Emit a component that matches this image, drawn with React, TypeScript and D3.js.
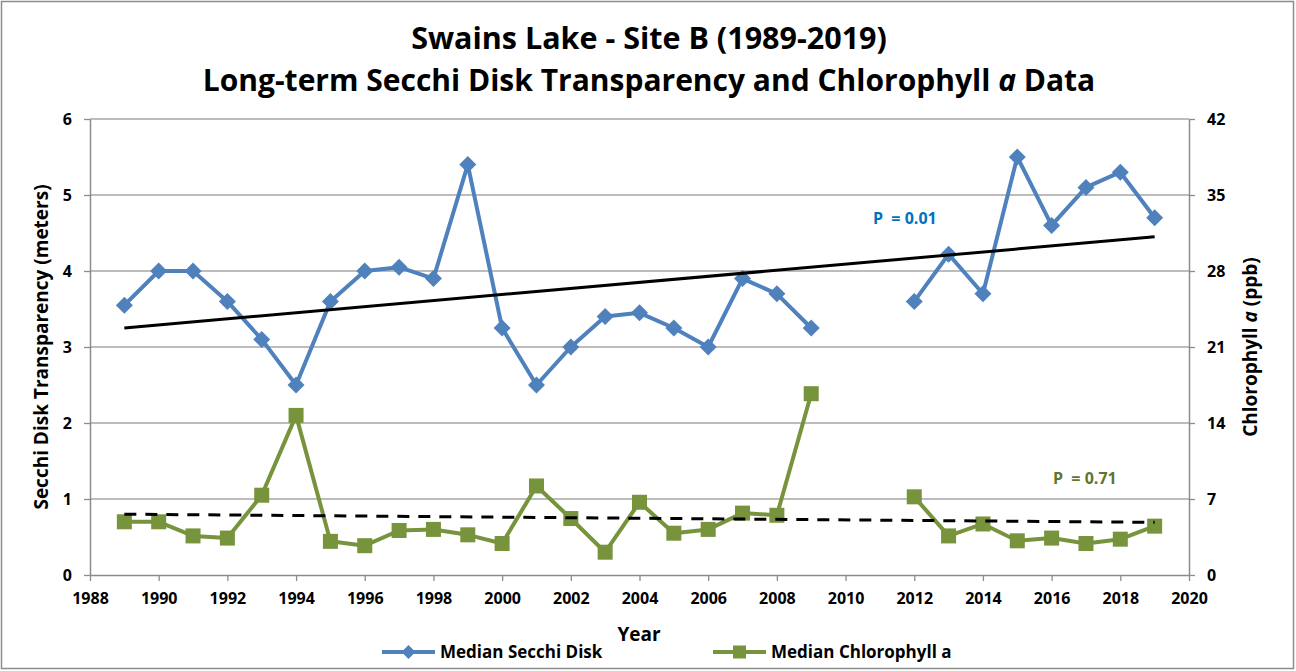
import React, { useEffect, useRef } from "react";
import * as d3 from "d3";

// years with measurements (2010 and 2011 missing)
const years = [1989, 1990, 1991, 1992, 1993, 1994, 1995, 1996, 1997, 1998, 1999, 2000, 2001, 2002, 2003, 2004, 2005, 2006, 2007, 2008, 2009, 2010, 2011, 2012, 2013, 2014, 2015, 2016, 2017, 2018, 2019];

// Median Secchi disk (meters), left axis
const secchi = [3.55, 4.0, 4.0, 3.6, 3.1, 2.5, 3.6, 4.0, 4.05, 3.9, 5.4, 3.25, 2.5, 3.0, 3.4, 3.45, 3.25, 3.0, 3.9, 3.7, 3.25, null, null, 3.6, 4.22, 3.7, 5.5, 4.6, 5.1, 5.3, 4.7];

// Median chlorophyll a (ppb), right axis
const chloro = [4.9, 4.9, 3.6, 3.4, 7.35, 14.7, 3.1, 2.7, 4.1, 4.2, 3.7, 2.9, 8.2, 5.2, 2.1, 6.7, 3.85, 4.2, 5.7, 5.5, 16.7, null, null, 7.2, 3.6, 4.7, 3.15, 3.4, 2.9, 3.3, 4.5];

// linear trend end points [1989, 2019]
const trendYears = [1989, 2019];
const secchiTrend = [3.25, 4.45];
const chloroTrend = [5.6, 4.85];

const xTicks = d3.range(1988, 2021, 2);
const leftTicks = [0, 1, 2, 3, 4, 5, 6];
const rightTicks = [0, 7, 14, 21, 28, 35, 42];

const W = 1296;
const H = 671;
const BLUE = "#4F81BD";
const GREEN = "#77933C";
const FONT = "'Liberation Sans Narrow', 'Open Sans', Arial, sans-serif";

const App = () => {
    const svgRef = useRef<SVGSVGElement>(null);

    useEffect(() => {
        const svg = d3.select(svgRef.current);
        svg.selectAll("*").remove();

        const margin = { top: 119, right: 107, bottom: 96, left: 90 };

        const x = d3.scaleLinear().domain([1988, 2020]).range([margin.left, W - margin.right]);
        const yL = d3.scaleLinear().domain([0, 6]).range([H - margin.bottom, margin.top]);
        const yR = d3.scaleLinear().domain([0, 42]).range([H - margin.bottom, margin.top]);

        // background + outer frame
        svg.append("rect").attr("x", 1.5).attr("y", 1.5).attr("width", W - 4).attr("height", H - 4)
            .attr("fill", "white").attr("stroke", "#8c8c8c").attr("stroke-width", 1.5);

        // grid lines
        svg.append("g").selectAll("line").data(leftTicks.slice(1)).join("line")
            .attr("x1", x(1988)).attr("x2", x(2020))
            .attr("y1", d => yL(d)).attr("y2", d => yL(d))
            .attr("stroke", "#a6a6a6").attr("stroke-width", 1.3);

        const styleAxis = (g: any) => {
            g.selectAll("path.domain").attr("stroke", "#8c8c8c").attr("stroke-width", 1.5);
            g.selectAll(".tick line").attr("stroke", "#8c8c8c").attr("stroke-width", 1.3);
            g.selectAll("text").attr("font-family", FONT).attr("font-weight", "bold")
                .attr("font-size", 16).attr("fill", "#000");
        };

        // x axis
        svg.append("g").attr("transform", `translate(0, ${yL(0)})`)
            .call(d3.axisBottom(x).tickValues(xTicks).tickFormat(d3.format("d")).tickSize(6).tickSizeOuter(0).tickPadding(12))
            .call(styleAxis);

        // left axis
        svg.append("g").attr("transform", `translate(${margin.left}, 0)`)
            .call(d3.axisLeft(yL).tickValues(leftTicks).tickFormat(d3.format("d")).tickSize(6).tickSizeOuter(0).tickPadding(12))
            .call(styleAxis);

        // right axis
        svg.append("g").attr("transform", `translate(${W - margin.right}, 0)`)
            .call(d3.axisRight(yR).tickValues(rightTicks).tickFormat(d3.format("d")).tickSize(6).tickSizeOuter(0).tickPadding(12))
            .call(styleAxis);

        // series lines
        const line = (scale: any) => d3.line<any>()
            .defined(d => d[1] != null)
            .x(d => x(d[0]))
            .y(d => scale(d[1]));

        const secchiData = years.map((yr, i) => [yr, secchi[i]]);
        const chloroData = years.map((yr, i) => [yr, chloro[i]]);

        svg.append("path").datum(secchiData)
            .attr("fill", "none").attr("stroke", BLUE).attr("stroke-width", 4)
            .attr("stroke-linejoin", "round").attr("d", line(yL));

        svg.append("path").datum(chloroData)
            .attr("fill", "none").attr("stroke", GREEN).attr("stroke-width", 4)
            .attr("stroke-linejoin", "round").attr("d", line(yR));

        // diamonds
        svg.append("g").selectAll("path").data(secchiData.filter(d => d[1] != null)).join("path")
            .attr("transform", d => `translate(${x(d[0] as number)}, ${yL(d[1] as number)})`)
            .attr("d", "M0,-8.5L8.5,0L0,8.5L-8.5,0Z")
            .attr("fill", BLUE);

        // squares
        svg.append("g").selectAll("rect").data(chloroData.filter(d => d[1] != null)).join("rect")
            .attr("x", d => x(d[0] as number) - 7.5).attr("y", d => yR(d[1] as number) - 7.5)
            .attr("width", 15).attr("height", 15)
            .attr("fill", GREEN);

        // trend lines
        const secchiTrendData = trendYears.map((yr, i) => [yr, secchiTrend[i]]);
        const chloroTrendData = trendYears.map((yr, i) => [yr, chloroTrend[i]]);

        svg.append("path").datum(secchiTrendData)
            .attr("fill", "none").attr("stroke", "#000").attr("stroke-width", 3)
            .attr("d", line(yL));

        svg.append("path").datum(chloroTrendData)
            .attr("fill", "none").attr("stroke", "#000").attr("stroke-width", 3)
            .attr("stroke-dasharray", "12,9")
            .attr("d", line(yR));

        // p-value labels
        svg.append("text").attr("x", 873).attr("y", 224)
            .attr("font-family", FONT).attr("font-weight", "bold").attr("font-size", 16)
            .attr("fill", "#0070C0").attr("xml:space", "preserve").text("P  = 0.01");
        svg.append("text").attr("x", 1053).attr("y", 484)
            .attr("font-family", FONT).attr("font-weight", "bold").attr("font-size", 16)
            .attr("fill", "#5F7530").attr("xml:space", "preserve").text("P  = 0.71");

        // titles
        svg.append("text").attr("x", 649).attr("y", 49).attr("text-anchor", "middle")
            .attr("font-family", FONT).attr("font-weight", "bold").attr("font-size", 30.5)
            .text("Swains Lake - Site B (1989-2019)");
        const t2 = svg.append("text").attr("x", 649).attr("y", 91).attr("text-anchor", "middle")
            .attr("font-family", FONT).attr("font-weight", "bold").attr("font-size", 30);
        t2.append("tspan").text("Long-term Secchi Disk Transparency and Chlorophyll ");
        t2.append("tspan").attr("font-style", "italic").text("a");
        t2.append("tspan").text(" Data");

        // axis titles
        svg.append("text").attr("transform", `translate(48, ${(yL(0) + yL(6)) / 2}) rotate(-90)`)
            .attr("text-anchor", "middle")
            .attr("font-family", FONT).attr("font-weight", "bold").attr("font-size", 19)
            .text("Secchi Disk Transparency (meters)");

        const rt = svg.append("text").attr("transform", `translate(1257, ${(yL(0) + yL(6)) / 2}) rotate(-90)`)
            .attr("text-anchor", "middle")
            .attr("font-family", FONT).attr("font-weight", "bold").attr("font-size", 19);
        rt.append("tspan").text("Chlorophyll ");
        rt.append("tspan").attr("font-style", "italic").text("a");
        rt.append("tspan").text(" (ppb)");

        svg.append("text").attr("x", 639).attr("y", 641).attr("text-anchor", "middle")
            .attr("font-family", FONT).attr("font-weight", "bold").attr("font-size", 19)
            .text("Year");

        // legend
        const legend = [
            { label: "Median Secchi Disk", color: BLUE, shape: "diamond", x0: 382 },
            { label: "Median Chlorophyll a", color: GREEN, shape: "square", x0: 713 },
        ];
        const ly = 652;
        legend.forEach(l => {
            const g = svg.append("g");
            g.append("line").attr("x1", l.x0).attr("x2", l.x0 + 53).attr("y1", ly).attr("y2", ly)
                .attr("stroke", l.color).attr("stroke-width", 4);
            if (l.shape === "diamond") {
                g.append("path").attr("transform", `translate(${l.x0 + 26.5}, ${ly})`)
                    .attr("d", "M0,-7L7,0L0,7L-7,0Z").attr("fill", l.color);
            } else {
                g.append("rect").attr("x", l.x0 + 20).attr("y", ly - 6.5)
                    .attr("width", 13).attr("height", 13).attr("fill", l.color);
            }
            g.append("text").attr("x", l.x0 + 58).attr("y", ly + 6)
                .attr("font-family", FONT).attr("font-weight", "bold").attr("font-size", 17)
                .text(l.label);
        });
    }, []);

    return (
        <svg ref={svgRef} width={W} height={H}
            style={{ position: "absolute", left: 0, top: 0, display: "block" }} />
    );
};

export default App;
